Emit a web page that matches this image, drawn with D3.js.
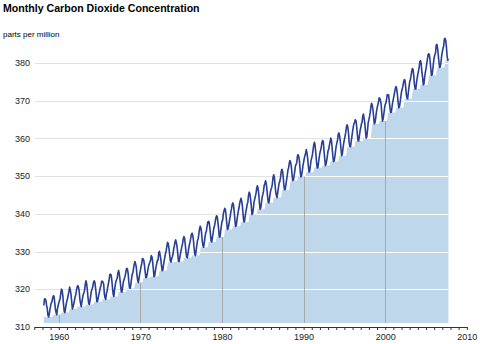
<!DOCTYPE html>
<html>
  <head>
    <meta charset="utf-8" />
    <title>CO2</title>
    <script src="https://cdn.jsdelivr.net/npm/d3@7"></script>
    <style>
      body { margin: 0; background: #fff; }
      text { font-family: "Liberation Sans", Arial, sans-serif; }
    </style>
  </head>
  <body>
    <div id="canvas"></div>
  </body>
  <script>
    // Mauna Loa monthly means (ppm), first value is March 1958
    const startYear = 1958;
    const startMonth = 2; // 0 = January
    const co2_1950s = [
      315.71, 317.45, 317.5, 317.1, 315.86, 314.93, 313.2, 312.66, 313.33, 314.67,
      315.62, 316.38, 316.71, 317.72, 318.29, 318.15, 316.54, 314.8, 313.84, 313.26, 314.8, 315.58,
    ];
    const co2_1960s = [
      316.43, 316.97, 317.58, 319.02, 320.03, 319.59, 318.18, 315.91, 314.16, 313.83, 315.0, 316.19,
      316.93, 317.7, 318.54, 319.48, 320.58, 319.77, 318.57, 316.79, 314.8, 315.38, 316.1, 317.01,
      317.94, 318.56, 319.68, 320.63, 321.01, 320.55, 319.58, 317.4, 316.26, 315.42, 316.69, 317.69,
      318.74, 319.08, 319.86, 321.39, 322.25, 321.47, 319.74, 317.77, 316.21, 315.99, 317.12, 318.31,
      319.57, 320.07, 320.73, 321.77, 322.25, 321.89, 320.44, 318.7, 316.7, 316.79, 317.79, 318.71,
      319.44, 320.44, 320.89, 322.13, 322.16, 321.87, 321.39, 318.81, 317.81, 317.3, 318.87, 319.42,
      320.62, 321.59, 322.39, 323.87, 324.01, 323.75, 322.39, 320.37, 318.64, 318.1, 319.79, 321.08,
      322.07, 322.5, 323.04, 324.42, 325.0, 324.09, 322.55, 320.92, 319.31, 319.31, 320.72, 321.96,
      322.57, 323.15, 323.89, 325.02, 325.57, 325.36, 324.14, 322.03, 320.41, 320.25, 321.31, 322.84,
      324.0, 324.42, 325.64, 326.66, 327.38, 326.7, 325.89, 323.67, 322.38, 321.78, 322.85, 324.11,
    ];
    const co2_1970s = [
      325.03, 325.99, 326.87, 328.13, 328.07, 327.66, 326.35, 324.69, 323.1, 323.16, 323.98, 325.13,
      326.17, 326.68, 327.18, 327.78, 328.92, 328.57, 327.34, 325.46, 323.36, 323.57, 324.8, 326.01,
      326.77, 327.63, 327.75, 329.72, 330.07, 329.09, 328.05, 326.32, 324.93, 325.06, 326.5, 327.55,
      328.54, 329.56, 330.3, 331.5, 332.48, 332.07, 330.87, 329.31, 327.51, 327.18, 328.16, 328.64,
      329.35, 330.71, 331.48, 332.65, 333.09, 332.25, 331.18, 329.4, 327.43, 327.37, 328.46, 329.57,
      330.4, 331.4, 332.04, 333.31, 333.96, 333.59, 331.91, 330.06, 328.56, 328.34, 329.49, 330.76,
      331.75, 332.56, 333.5, 334.58, 334.87, 334.34, 333.05, 330.94, 329.3, 328.94, 330.31, 331.68,
      332.93, 333.42, 334.7, 336.07, 336.74, 336.27, 334.93, 332.75, 331.58, 331.16, 332.4, 333.85,
      334.97, 335.39, 336.64, 337.76, 338.01, 337.89, 336.54, 334.68, 332.76, 332.54, 333.92, 334.95,
      336.23, 336.76, 337.96, 338.89, 339.47, 339.29, 337.73, 336.09, 333.91, 333.86, 335.29, 336.73,
    ];
    const co2_1980s = [
      338.01, 338.36, 340.08, 340.77, 341.46, 341.17, 339.56, 337.6, 335.88, 336.01, 337.1, 338.21,
      339.24, 340.48, 341.38, 342.51, 342.91, 342.25, 340.49, 338.43, 336.69, 336.85, 338.36, 339.61,
      340.75, 341.61, 342.7, 343.56, 344.13, 343.35, 342.06, 339.82, 337.97, 337.86, 339.26, 340.49,
      341.38, 342.52, 343.1, 344.94, 345.75, 345.32, 343.99, 342.39, 339.86, 339.99, 341.16, 342.99,
      343.82, 344.63, 345.37, 346.74, 347.44, 346.77, 345.41, 343.01, 341.23, 341.52, 342.86, 344.41,
      345.09, 345.89, 347.49, 348.0, 348.75, 348.19, 346.54, 344.63, 343.03, 342.92, 344.24, 345.62,
      346.43, 346.94, 347.88, 349.57, 350.35, 349.72, 347.78, 345.86, 344.84, 344.32, 345.67, 346.88,
      348.19, 348.55, 349.52, 351.12, 351.84, 351.49, 349.82, 347.63, 346.38, 346.49, 347.75, 349.03,
      350.2, 351.61, 352.22, 353.53, 354.14, 353.62, 352.53, 350.41, 348.84, 348.94, 350.04, 351.29,
      352.72, 353.1, 353.65, 355.43, 355.7, 355.11, 353.79, 351.42, 349.81, 350.11, 351.26, 352.63,
    ];
    const co2_1990s = [
      353.64, 354.72, 355.49, 356.09, 357.08, 356.11, 354.7, 352.68, 351.05, 351.36, 352.81, 354.22,
      354.85, 355.66, 357.04, 358.4, 359.0, 357.99, 356.0, 353.78, 352.2, 352.22, 353.7, 354.98,
      356.09, 356.85, 357.73, 358.91, 359.45, 359.19, 356.72, 354.79, 352.79, 353.2, 354.15, 355.39,
      356.77, 357.17, 358.26, 359.16, 360.07, 359.41, 357.44, 355.3, 353.87, 354.04, 355.27, 356.7,
      358.0, 358.81, 359.68, 361.13, 361.48, 360.6, 359.2, 357.23, 355.42, 355.89, 357.41, 358.74,
      359.73, 360.61, 361.58, 363.05, 363.62, 363.03, 361.55, 358.94, 357.93, 357.8, 359.22, 360.42,
      361.83, 362.95, 363.91, 364.28, 364.94, 364.7, 363.31, 361.15, 359.4, 359.34, 360.62, 361.96,
      362.81, 363.87, 364.25, 366.02, 366.46, 365.32, 364.07, 361.95, 360.06, 360.49, 362.19, 364.12,
      364.99, 365.82, 366.95, 368.42, 369.33, 368.78, 367.59, 365.84, 363.83, 364.18, 365.34, 366.93,
      367.94, 368.82, 369.46, 370.77, 370.66, 370.1, 369.08, 366.66, 364.6, 365.17, 366.51, 367.89,
    ];
    const co2_2000s = [
      369.04, 369.35, 370.38, 371.63, 371.32, 371.53, 369.75, 368.23, 366.87, 366.94, 368.27, 369.64,
      370.46, 371.44, 372.37, 373.33, 373.77, 373.09, 371.51, 369.55, 368.12, 368.38, 369.66, 371.11,
      372.36, 373.09, 373.81, 374.93, 375.58, 375.44, 373.86, 371.77, 370.73, 370.5, 372.18, 373.7,
      374.92, 375.62, 376.51, 377.75, 378.54, 378.21, 376.65, 374.28, 373.12, 373.1, 374.67, 375.97,
      377.03, 377.87, 378.88, 380.42, 380.62, 379.7, 377.43, 376.32, 374.19, 374.47, 376.15, 377.51,
      378.43, 379.7, 380.92, 382.18, 382.45, 382.14, 380.6, 378.64, 376.73, 376.84, 378.29, 380.06,
      381.4, 382.2, 382.66, 384.69, 384.94, 384.01, 382.14, 380.31, 378.81, 379.03, 380.17, 381.85,
      382.94, 383.86, 384.49, 386.37, 386.54, 385.98, 384.36, 381.85, 380.74, 381.15,
    ];
    const yTicks = [310, 320, 330, 340, 350, 360, 370, 380];
    const decadeTicks = [1960, 1970, 1980, 1990, 2000, 2010];

    const values = [].concat(co2_1950s, co2_1960s, co2_1970s, co2_1980s, co2_1990s, co2_2000s);
    const data = values.map((v, i) => ({
      date: startYear + (startMonth + i) / 12,
      ppm: v,
    }));
    // lower envelope: smallest value within +-6 months
    data.forEach((d, i) => {
      d.low = d3.min(data.slice(Math.max(0, i - 6), i + 7), (e) => e.ppm);
    });

    canvas.append(chart(data));

    function chart(data) {
      const width = 480;
      const height = 344;

      const svg = d3
        .create("svg")
        .attr("width", width)
        .attr("height", height)
        .attr("viewBox", [0, 0, width, height]);

      const x = d3.scaleLinear().domain([1957, 2010]).range([34.3, 466.8]);
      const y = d3.scaleLinear().domain([310, 380]).range([327, 63]);
      const base = y(310) - 4;
      const x0 = x(data[0].date);
      const x1 = x(data[data.length - 1].date);

      svg
        .append("text")
        .attr("x", 3)
        .attr("y", 12)
        .attr("font-size", 10.6)
        .attr("font-weight", "bold")
        .text("Monthly Carbon Dioxide Concentration");

      svg
        .append("text")
        .attr("x", 3)
        .attr("y", 37)
        .attr("font-size", 8)
        .text("parts per million");

      // grey gridlines behind the area
      svg
        .append("g")
        .attr("stroke", "#e2e2e2")
        .selectAll()
        .data(yTicks.slice(1))
        .join("line")
        .attr("x1", 35)
        .attr("x2", x1)
        .attr("y1", (d) => Math.round(y(d)) + 0.5)
        .attr("y2", (d) => Math.round(y(d)) + 0.5);

      svg
        .append("g")
        .attr("font-size", 9)
        .attr("fill", "#222")
        .attr("text-anchor", "end")
        .selectAll()
        .data(yTicks)
        .join("text")
        .attr("x", 30)
        .attr("y", (d) => y(d))
        .attr("dy", "0.35em")
        .text((d) => d);

      const area = d3
        .area()
        .x((d) => x(d.date))
        .y0(base)
        .y1((d) => y(d.low));

      svg
        .append("clipPath")
        .attr("id", "clip")
        .append("path")
        .attr("d", area(data));

      svg.append("path").attr("d", area(data)).attr("fill", "#bed7eb");

      const inner = svg.append("g").attr("clip-path", "url(#clip)");
      inner
        .append("g")
        .attr("stroke", "#fff")
        .selectAll()
        .data(yTicks.slice(1))
        .join("line")
        .attr("x1", x0)
        .attr("x2", x1)
        .attr("y1", (d) => Math.round(y(d)) + 0.5)
        .attr("y2", (d) => Math.round(y(d)) + 0.5);
      inner
        .append("g")
        .attr("stroke", "#a8a8a8")
        .selectAll()
        .data(decadeTicks.filter((d) => x(d) < x1))
        .join("line")
        .attr("x1", (d) => Math.round(x(d)) + 0.5)
        .attr("x2", (d) => Math.round(x(d)) + 0.5)
        .attr("y1", 0)
        .attr("y2", base);

      const line = d3
        .line()
        .x((d) => x(d.date))
        .y((d) => y(d.ppm));

      svg
        .append("path")
        .attr("d", line(data))
        .attr("fill", "none")
        .attr("stroke", "#273f94")
        .attr("stroke-width", 1.6)
        .attr("stroke-linejoin", "round");

      const axis = d3
        .axisBottom(x)
        .tickValues(d3.range(1957, 2011))
        .tickFormat((d) => (d % 10 === 0 ? d : ""))
        .tickSize(3)
        .tickSizeOuter(0)
        .tickPadding(4);

      const gx = svg
        .append("g")
        .attr("transform", `translate(0,${y(310)})`)
        .call(axis);
      gx.attr("font-family", null).attr("font-size", 9);
      gx.selectAll("line, path").attr("stroke", "#333");
      gx.selectAll("text").attr("fill", "#222");

      return svg.node();
    }
  </script>
</html>
